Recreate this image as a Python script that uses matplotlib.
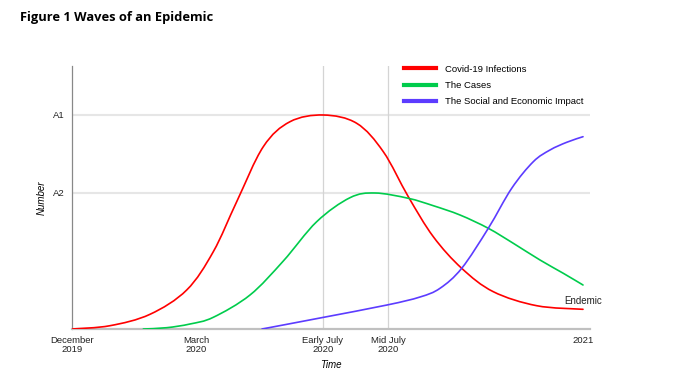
import matplotlib
matplotlib.use("Agg")
import numpy as np
import matplotlib.pyplot as plt
from matplotlib.lines import Line2D
from matplotlib.path import Path
from matplotlib.patches import PathPatch

# ---- data (x: time position, y: number) ----
tick_pos = [0, 124, 251, 316, 511]
tick_labels = ["December\n2019", "March\n2020", "Early July\n2020", "Mid July\n2020", "2021"]
ytick_pos = [214, 136]
ytick_labels = ["A1", "A2"]

red_x = [0, 38, 78, 114.7, 141.3, 164.7, 191.3, 218, 251.3, 284.7, 311.3, 336.3, 361.3, 389.7,
         421.3, 464.7, 511]
red_y = [0, 3.3, 14.7, 39, 77.3, 127.3, 182.3, 207.3, 214, 205.7, 177.3, 132.3, 92.3, 60.7,
         37.3, 23.3, 19.7]

green_x = [71.3, 94.7, 118, 141.3, 178, 211.3, 244.7, 278, 303, 336.3, 361.3, 388, 416.3, 441.3,
           468, 491.3, 511]
green_y = [0, 1.3, 5, 11.7, 34, 68, 107.3, 131.3, 136, 130.7, 123.3, 114, 100.7, 85.7,
           69, 55.7, 44]

blue_x = [190, 248, 315, 348, 368, 389.7, 416.3, 439.7, 461.3, 478, 494.7, 511]
blue_y = [0, 11, 24, 32, 40.7, 60.7, 100.7, 140.7, 167.3, 179, 186.7, 192.3]

series_names = ["Covid-19 Infections", "The Cases", "The Social and Economic Impact"]
colors = ["#ff0000", "#00cc4c", "#5c3cff"]


def smooth_path(xs, ys):
    """Bezier path through the read points (rendered by matplotlib)."""
    pts = np.column_stack([xs, ys]).astype(float)
    verts = [pts[0]]
    codes = [Path.MOVETO]
    n = len(pts)
    for i in range(n - 1):
        p0 = pts[i - 1] if i > 0 else pts[i]
        p1 = pts[i]
        p2 = pts[i + 1]
        p3 = pts[i + 2] if i + 2 < n else pts[i + 1]
        c1 = p1 + (p2 - p0) / 6.0
        c2 = p2 - (p3 - p1) / 6.0
        verts += [c1, c2, p2]
        codes += [Path.CURVE4] * 3
    return Path(verts, codes)


plt.rcParams['font.family'] = ['Liberation Sans', 'DejaVu Sans']

fig = plt.figure(figsize=(6.75, 3.8), dpi=100)
ax = fig.add_axes([72/675, 1-329/380, (590-72)/675, (329-66)/380])

# grid lines
for yv in ytick_pos:
    ax.axhline(yv, color="#e6e6e6", lw=1.5, zorder=0)
for xv in [tick_pos[2], tick_pos[3]]:
    ax.axvline(xv, color="#d4d4d4", lw=0.9, zorder=0)

for xs, ys, c in [(red_x, red_y, colors[0]), (green_x, green_y, colors[1]), (blue_x, blue_y, colors[2])]:
    ax.add_patch(PathPatch(smooth_path(xs, ys), facecolor="none", edgecolor=c, lw=1.2,
                           capstyle='round', joinstyle='round', zorder=3))

ax.set_xlim(0, 518)
ax.set_ylim(0, 263)
ax.set_xticks(tick_pos)
ax.set_xticklabels(tick_labels, fontsize=6.8, linespacing=1.0)
ax.set_yticks(ytick_pos)
ax.set_yticklabels(ytick_labels, fontsize=6.8)
ax.tick_params(axis='both', length=0, pad=5, colors="#222222")

for s in ["top", "right"]:
    ax.spines[s].set_visible(False)
ax.spines["left"].set_color("#888888")
ax.spines["left"].set_linewidth(0.9)
ax.spines["bottom"].set_color("#c0c0c0")
ax.spines["bottom"].set_linewidth(1.6)

ax.set_xlabel("Time", fontsize=7, style="italic", labelpad=4)
ax.set_ylabel("Number", fontsize=7, style="italic", labelpad=5)

ax.text(511, 28, "Endemic", fontsize=7, ha="center", va="center", color="#222222")

handles = [Line2D([0], [0], color=c, lw=3) for c in colors]
leg = fig.legend(handles, series_names, loc="upper left", bbox_to_anchor=(400/675, 1-61/380),
                 frameon=False, fontsize=6.8, handlelength=3.4, handletextpad=1.0,
                 labelspacing=0.75, borderaxespad=0)

fig.text(20/675, 1-17/380, "Figure 1 Waves of an Epidemic", fontsize=9.3, fontweight="bold",
         family=["Open Sans", "DejaVu Sans"], va="center", ha="left")

fig.savefig("out.png", dpi=100)
